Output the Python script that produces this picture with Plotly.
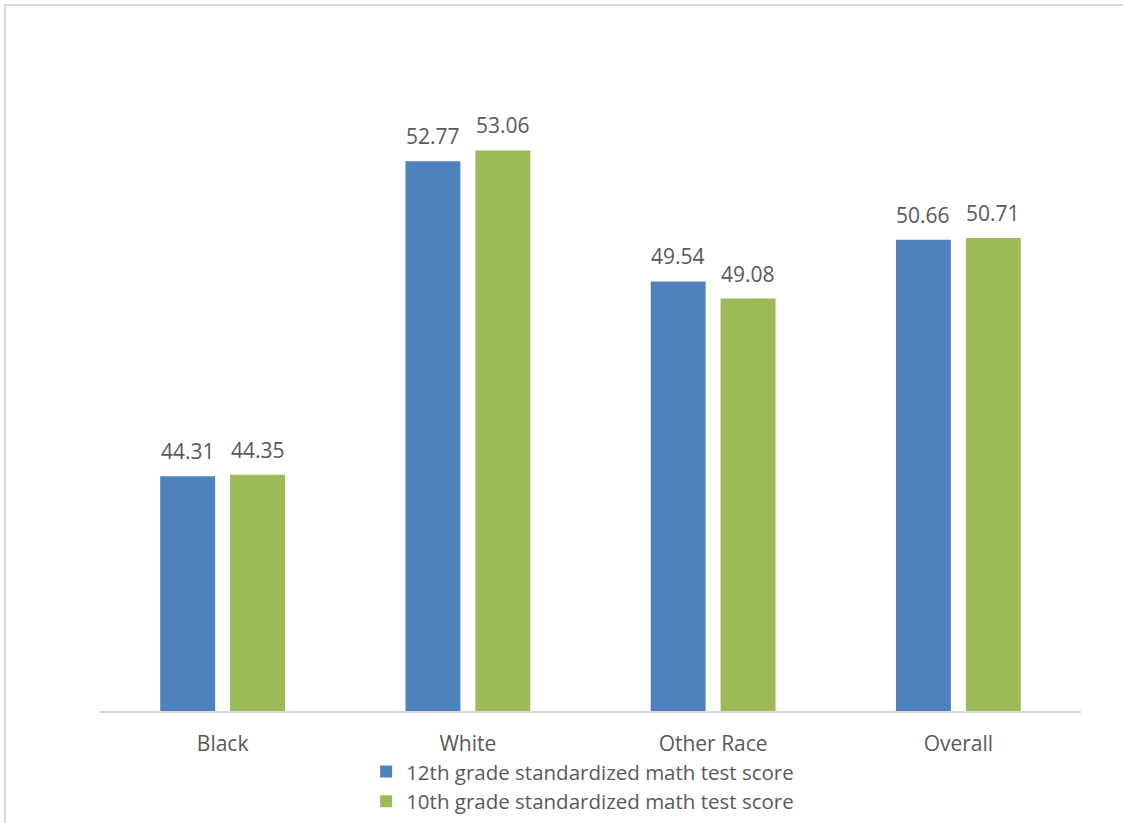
import plotly.graph_objects as go

categories = ["Black", "White", "Other Race", "Overall"]
grade12 = [44.31, 52.77, 49.54, 50.66]
grade10 = [44.35, 53.06, 49.08, 50.71]
series_names = ["12th grade standardized math test score", "10th grade standardized math test score"]

FONT = "Open Sans"
TXT = "#595959"
COLORS = ["#4F81BD", "#9BBB59"]

fig = go.Figure()
for name, vals, col in zip(series_names, [grade12, grade10], COLORS):
    fig.add_trace(go.Bar(x=categories, y=vals, name=name, marker_color=col, marker_line_width=0))

annotations = []
for vals, shift in zip([grade12, grade10], [-35, 35]):
    for c, v in zip(categories, vals):
        annotations.append(dict(x=c, y=v, text=f"{v:.2f}", showarrow=False, xshift=shift,
                                yanchor="bottom", yshift=9,
                                font=dict(size=21, color=TXT, family=FONT)))

fig.update_layout(
    width=1123, height=823,
    margin=dict(l=100, r=42, t=41, b=112, autoexpand=False),
    paper_bgcolor="white", plot_bgcolor="white",
    barmode="group", bargap=0.43, bargroupgap=0.214,
    font=dict(family=FONT, color=TXT, size=21),
    showlegend=True,
    legend=dict(orientation="v", x=0.492, xanchor="center", yref="container", y=0.044, yanchor="middle",
                font=dict(size=20.5, color=TXT, family=FONT), tracegroupgap=0,
                itemwidth=30, bgcolor="rgba(0,0,0,0)"),
    xaxis=dict(showline=True, linecolor="#D9D9D9", linewidth=2, ticks="outside", ticklen=13,
               tickcolor="rgba(0,0,0,0)",
               tickfont=dict(size=21, color=TXT, family=FONT), showgrid=False),
    yaxis=dict(range=[38, 56], visible=False, showgrid=False),
    annotations=annotations,
    shapes=[
        dict(type="line", xref="paper", yref="paper", x0=-0.097, x1=1.043, y0=1.0537, y1=1.0537,
             line=dict(color="#D9D9D9", width=2)),
        dict(type="line", xref="paper", yref="paper", x0=-0.0968, x1=-0.0968, y0=1.0537, y1=-0.17,
             line=dict(color="#D9D9D9", width=2)),
    ],
)

fig.write_html("out.html")
